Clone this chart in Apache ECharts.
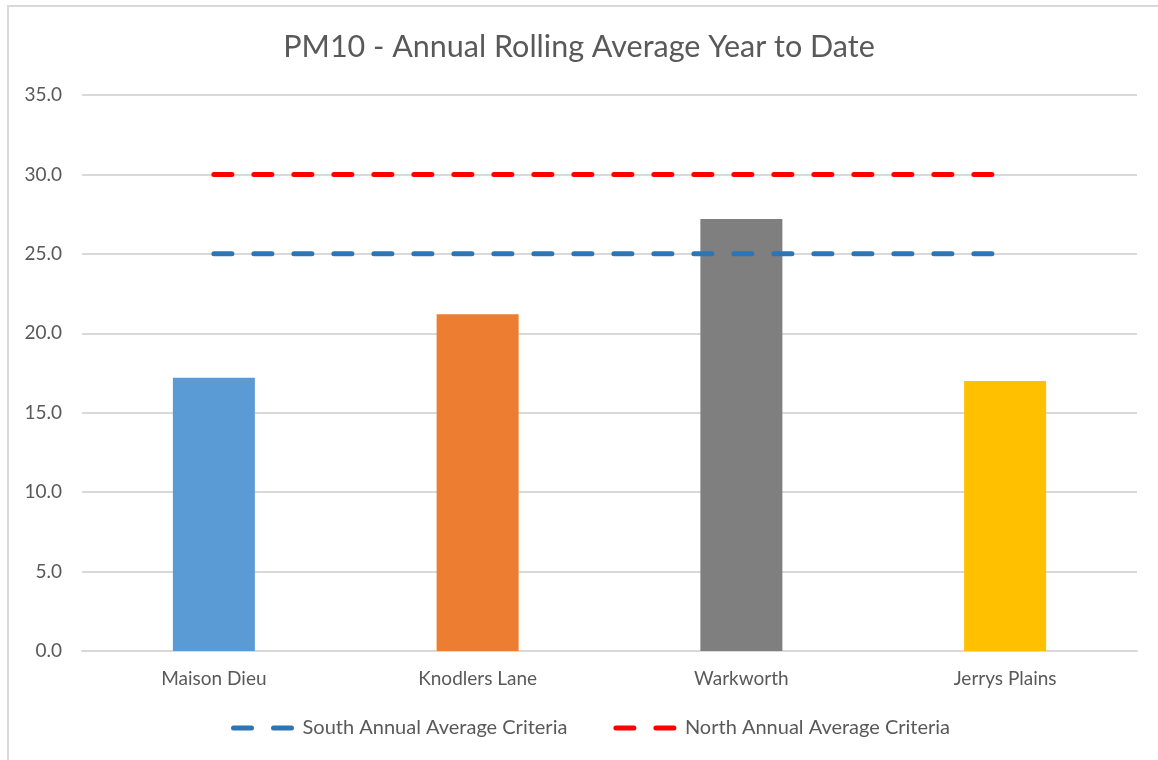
<!DOCTYPE html>
<html>
<head>
<meta charset="utf-8">
<script src="https://cdn.jsdelivr.net/npm/echarts@6/dist/echarts.min.js"></script>
<style>
  html, body { margin: 0; padding: 0; background: #fff; }
  #chart { width: 1158px; height: 760px; }
</style>
</head>
<body>
<div id="chart"></div>
<script>
var sites = ["Maison Dieu", "Knodlers Lane", "Warkworth", "Jerrys Plains"];
var pm10 = [17.2, 21.2, 27.2, 17.0];
var barColors = ["#5b9bd5", "#ed7d31", "#7f7f7f", "#ffc000"];
var southCriteria = [25, 25, 25, 25];
var northCriteria = [30, 30, 30, 30];

var font = "Lato";
var chart = echarts.init(document.getElementById("chart"));

var option = {
  animation: false,
  textStyle: { fontFamily: font },
  title: {
    text: "PM10 - Annual Rolling Average Year to Date",
    left: "center",
    top: 27,
    textStyle: {
      color: "#595959",
      fontSize: 30.5,
      fontWeight: "normal",
      fontFamily: font,
    },
  },
  legend: {
    bottom: 17,
    left: 226,
    itemWidth: 64,
    itemHeight: 14,
    itemGap: 46,
    textStyle: { color: "#595959", fontSize: 20, fontFamily: font },
    itemStyle: { opacity: 0 },
    lineStyle: { width: 5, type: [18, 22], cap: "round" },
    data: ["South Annual Average Criteria", "North Annual Average Criteria"],
  },
  graphic: [
    { type: "rect", shape: { x: 7, y: 5, width: 1151, height: 2 }, style: { fill: "#d9d9d9" } },
    { type: "rect", shape: { x: 7, y: 5, width: 2, height: 755 }, style: { fill: "#d9d9d9" } },
  ],
  grid: {
    left: 82,
    right: 21,
    top: 95,
    bottom: 109,
  },
  xAxis: {
    type: "category",
    data: sites,
    axisTick: { show: false },
    axisLine: { lineStyle: { color: "#d9d9d9", width: 2 } },
    axisLabel: { color: "#595959", fontSize: 19, margin: 18, fontFamily: font },
  },
  yAxis: {
    type: "value",
    min: 0,
    max: 35,
    interval: 5,
    axisLine: { show: false },
    axisTick: { show: false },
    axisLabel: {
      color: "#595959",
      fontSize: 19,
      margin: 20,
      fontFamily: font,
      formatter: function (v) { return v.toFixed(1); },
    },
    splitLine: { lineStyle: { color: "#d9d9d9", width: 2 } },
  },
  series: [
    {
      name: "PM10",
      type: "bar",
      barWidth: 82,
      data: pm10.map(function (v, i) {
        return { value: v, itemStyle: { color: barColors[i] } };
      }),
      z: 2,
    },
    {
      name: "South Annual Average Criteria",
      type: "line",
      data: southCriteria,
      symbol: "none",
      color: "#2e75b6",
      lineStyle: { color: "#2e75b6", width: 5, type: [18, 22], cap: "round" },
      z: 3,
    },
    {
      name: "North Annual Average Criteria",
      type: "line",
      data: northCriteria,
      symbol: "none",
      color: "#ff0000",
      lineStyle: { color: "#ff0000", width: 5, type: [18, 22], cap: "round" },
      z: 3,
    },
  ],
};
chart.setOption(option);
</script>
</body>
</html>
